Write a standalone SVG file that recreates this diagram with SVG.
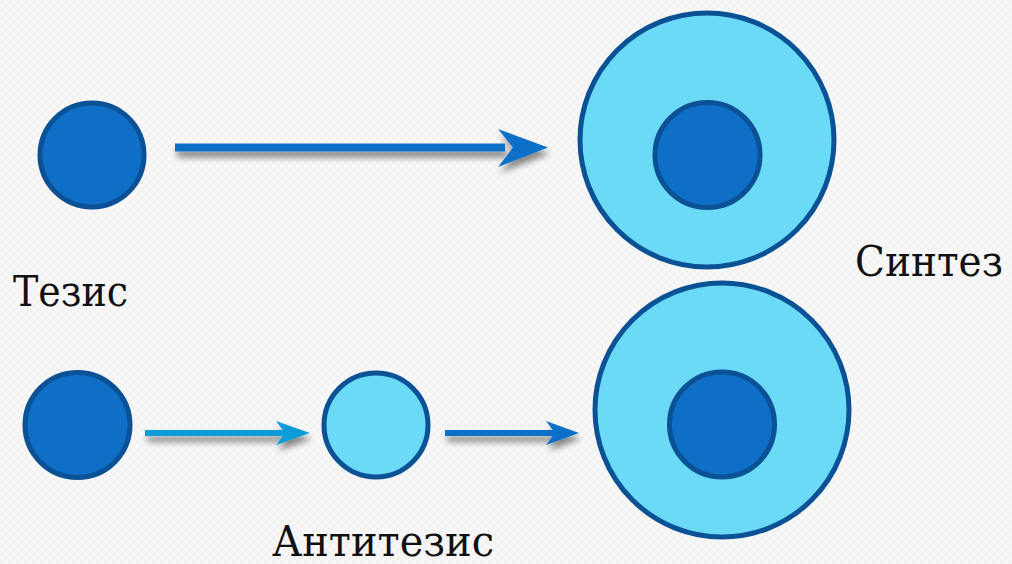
<svg xmlns="http://www.w3.org/2000/svg" width="1012" height="564" viewBox="0 0 1012 564">
  <defs>
    <filter id="shadow" x="-10%" y="-100%" width="120%" height="300%">
      <feGaussianBlur in="SourceAlpha" stdDeviation="3"/>
      <feOffset dx="2" dy="6" result="b"/>
      <feComponentTransfer><feFuncA type="linear" slope="0.45"/></feComponentTransfer>
      <feMerge><feMergeNode/><feMergeNode in="SourceGraphic"/></feMerge>
    </filter>
    <pattern id="bg" width="8" height="8" patternUnits="userSpaceOnUse">
      <rect width="8" height="8" fill="#f8f8f8"/>
      <rect width="4" height="4" fill="#f3f3f3"/>
      <rect x="4" y="4" width="4" height="4" fill="#f3f3f3"/>
    </pattern>
  </defs>
  <style>
    .dark { fill: #0f6fc6; stroke: #0a5196; stroke-width: 5; }
    .light { fill: #6bdaf7; stroke: #0a5196; stroke-width: 5; }
    .lbl { font-family: "DejaVu Serif", "Liberation Serif", serif; font-size: 43px; fill: #111111; }
  </style>
  <rect width="1012" height="564" fill="url(#bg)"/>

  <g id="connectors">
    <g id="arrow1" filter="url(#shadow)" fill="#1070c8">
      <rect x="175" y="143.5" width="330" height="8"/>
      <polygon points="498,129 548,147.5 498,167 513,147.5"/>
    </g>
    <g id="arrow2" filter="url(#shadow)" fill="#0e9cd8">
      <rect x="145" y="430" width="140" height="6"/>
      <polygon points="276,421 310,433 276,445 285,433"/>
    </g>
    <g id="arrow3" filter="url(#shadow)" fill="#1070c8">
      <rect x="445" y="430" width="110" height="6"/>
      <polygon points="546,421 579,433 546,445 555,433"/>
    </g>
  </g>

  <g id="thesis">
    <circle class="dark" cx="92" cy="155" r="52"/>
    <text class="lbl" x="13" y="306" textLength="115" lengthAdjust="spacingAndGlyphs">Тезис</text>
  </g>

  <g id="thesis2">
    <circle class="dark" cx="77.5" cy="425" r="52.5"/>
  </g>

  <g id="antithesis">
    <circle class="light" cx="376" cy="425" r="52"/>
    <text class="lbl" x="272" y="556" textLength="222" lengthAdjust="spacingAndGlyphs">Антитезис</text>
  </g>

  <g id="synthesis1">
    <circle class="light" cx="707" cy="140" r="127"/>
    <circle class="dark" cx="707.5" cy="155" r="52.5"/>
  </g>

  <g id="synthesis2">
    <circle class="light" cx="722" cy="410" r="127"/>
    <circle class="dark" cx="722" cy="424.5" r="52.5"/>
  </g>

  <g id="synthesis-label">
    <text class="lbl" x="855" y="276" textLength="148" lengthAdjust="spacingAndGlyphs">Синтез</text>
  </g>
</svg>
